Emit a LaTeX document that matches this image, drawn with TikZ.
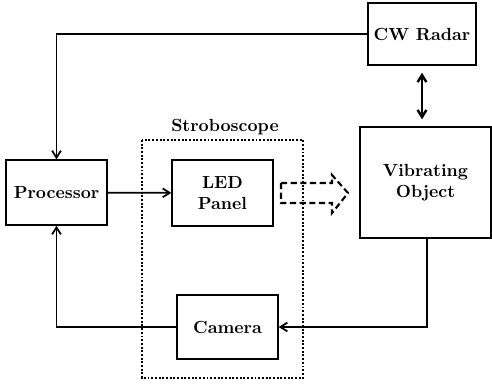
\documentclass[tikz,border=0pt]{standalone}
\usepackage{tikz}
\usetikzlibrary{arrows.meta,calc}

\begin{document}
\begin{tikzpicture}[x=.02cm,y=-.02cm,font=\bfseries,>={Straight Barb[length=4pt,width=5pt]},
  blk/.style={draw,line width=.8pt,align=center,minimum width=2.02cm},
  wire/.style={line width=1pt}]
\useasboundingbox(0,0)rectangle(492,383);
\draw[line width=1.3pt,dash pattern=on 1.1pt off 1pt](142,140)rectangle(303,378);
\node(strobelbl)at(225,127){Stroboscope};
\node[blk,minimum height=1.3cm](proc)at(56.5,192.5){Processor};
\node[blk,minimum height=1.32cm](led)at(222.5,193){LED\\Panel};
\node[blk,minimum height=1.28cm](cam)at(227.5,327){Camera};
\node[blk,minimum width=2cm,minimum height=1.24cm](radar)at(422,34){CW Radar};
\node[blk,minimum width=2.62cm,minimum height=2.22cm](vib)at(425.5,182.5){Vibrating\\Object};
\draw[line width=1.2pt,dash pattern=on 3.5pt off 2pt](281,183)--(332,183)--(332,175)--(348,193)--(332,213)--(332,203)--(281,203)--cycle;
\draw[wire,->](radar.west)-|(proc.north);
\draw[wire,->](proc)--(led);
\draw[wire,<->,line width=1.4pt,shorten <=4pt,shorten >=4pt](radar)--(radar|-vib.north);
\draw[wire,->]($(vib.south)+(1.5,0)$)|-(cam.east);
\draw[wire,->](cam.west)-|(proc.south);
\end{tikzpicture}
\end{document}
